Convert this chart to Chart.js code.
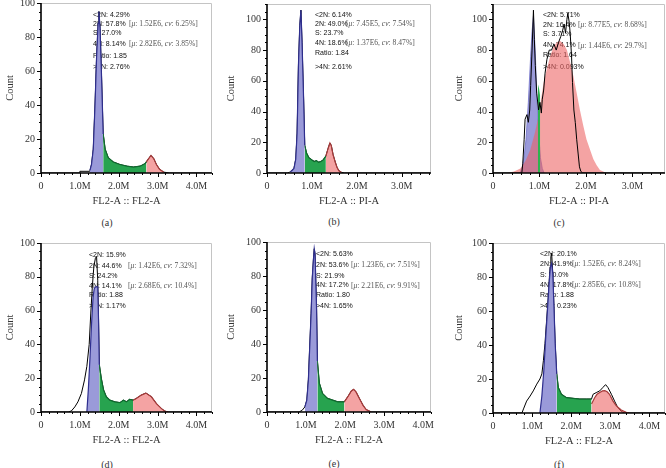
<!DOCTYPE html>
<html>
<head>
<meta charset="utf-8">
<title>Cell cycle histograms</title>
<script src="https://cdn.jsdelivr.net/npm/chart.js@4.4.1/dist/chart.umd.min.js"></script>
<style>
  html, body { margin: 0; padding: 0; background: #fff; }
  #figure { position: relative; width: 666px; height: 468px; overflow: hidden; }
  .panel { position: absolute; width: 222px; height: 234px; }
  .panel canvas { position: absolute; left: 0; top: 0; }
  .cap { position: absolute; font: 10px 'Liberation Serif', 'Times New Roman', serif; color: #333; transform: translate(-50%, -50%); }
</style>
</head>
<body>
<div id="figure"></div>
<script>
Chart.defaults.font.family = "'Liberation Serif', 'Times New Roman', serif";
Chart.defaults.color = '#333';

// ---- data (x in millions, y = count) ----
// (a)
const aX = [0, 0.99, 1.0, 1.25, 1.26, 1.30, 1.345, 1.39, 1.43, 1.47, 1.49, 1.52, 1.56, 1.60, 1.65, 1.73, 1.86, 2.03, 2.21, 2.38, 2.55, 2.68, 2.71, 2.77, 2.83, 2.90, 2.97, 3.05, 3.16, 3.30, 4.4];
const aCount = [0, 0, 1, 1, 1.5, 5, 14, 40, 68, 88, 95, 85, 55, 23, 14, 9, 6.5, 5, 4, 3.5, 4, 5.5, 6.5, 8.5, 10.3, 8.5, 5, 2.2, 0.5, 0, 0];
const aGates = [1.26, 1.60, 2.71, 3.16];
const aStats = ['<2N: 4.29%', '2N: 57.8%', 'S: 27.0%', '4N: 8.14%', 'Ratio: 1.85', '>4N: 2.76%'];
const aFits = [['1.52E6', '6.25%'], ['2.82E6', '3.85%']];

// (b)
const bX = [0, 0.45, 0.5, 0.52, 0.55, 0.6, 0.64, 0.67, 0.70, 0.73, 0.755, 0.78, 0.815, 0.84, 0.88, 0.93, 1.0, 1.05, 1.1, 1.15, 1.2, 1.25, 1.31, 1.36, 1.40, 1.43, 1.47, 1.52, 1.56, 1.6, 1.66, 1.72, 3.7];
const bCount = [0, 0, 0.5, 0.8, 1.5, 3, 9, 26, 70, 96, 106, 85, 48, 18, 13, 10, 8.5, 7.5, 8, 7, 7.5, 8.5, 11, 16, 19.5, 18, 12, 7, 3.5, 1.5, 0.4, 0, 0];
const bGates = [0.52, 0.84, 1.31, 1.66];
const bStats = ['<2N: 6.14%', '2N: 49.0%', 'S: 23.7%', '4N: 18.6%', 'Ratio: 1.84', '>4N: 2.61%'];
const bFits = [['7.45E5', '7.54%'], ['1.37E6', '8.47%']];

// (c)
const cX = [0, 0.62, 0.64, 0.67, 0.69, 0.73, 0.76, 0.79, 0.81, 0.84, 0.87, 0.89, 0.91, 0.94, 0.98, 1.01, 1.04, 1.06, 1.09, 1.12, 1.16, 1.21, 1.26, 1.31, 1.36, 1.41, 1.46, 1.50, 1.53, 1.56, 1.59, 1.61, 1.64, 1.66, 1.69, 1.71, 1.74, 1.77, 1.80, 1.83, 1.86, 1.89, 1.93, 3.7];
const cCount = [0, 0, 6, 22, 35, 38, 33, 41, 57, 80, 106, 87, 70, 52, 41, 46, 39, 48, 54, 65, 74, 80, 80, 84, 80, 85, 89, 93, 97, 91, 100, 104, 98, 91, 76, 59, 41, 33, 22, 13, 4, 1, 0, 0];
const cG1X = [0.58, 0.63, 0.67, 0.71, 0.76, 0.81, 0.84, 0.87, 0.89, 0.91, 0.94, 0.98, 1.02, 1.06, 1.10];
const cG1Y = [0, 4, 11, 22, 46, 76, 92, 102, 90, 78, 52, 27, 10, 3, 0];
const cSX = [0.965, 0.99, 1.015];
const cSY = [58, 55, 50];
const cG2X = [0.32, 0.45, 0.59, 0.70, 0.80, 0.90, 0.98, 1.09, 1.16, 1.23, 1.30, 1.37, 1.44, 1.52, 1.59, 1.66, 1.73, 1.80, 1.87, 1.94, 2.01, 2.09, 2.16, 2.23, 2.30, 2.44];
const cG2Y = [0, 1, 3, 8, 15, 26, 37, 59, 68, 76, 82, 85, 86, 84, 80, 72, 63, 52, 41, 31, 22, 15, 9, 5, 2, 0];
const cStats = ['<2N: 5.71%', '2N: 16.4%', 'S: 3.71%', '4N: 74.1%', 'Ratio: 1.64', '>4N: 0.093%'];
const cFits = [['8.77E5', '8.68%'], ['1.44E6', '29.7%']];

// (d)
const dX = [0, 0.70, 0.78, 0.87, 0.95, 1.04, 1.12, 1.18, 1.24, 1.28, 1.32, 1.36, 1.40, 1.43, 1.46, 1.48, 1.50, 1.55, 1.61, 1.68, 1.77, 1.90, 2.03, 2.12, 2.20, 2.28, 2.37, 2.45, 2.58, 2.70, 2.84, 2.97, 3.10, 3.18, 3.27, 4.4];
const dCount = [0, 0, 0.6, 3, 6, 11, 19, 27, 40, 58, 74, 86, 91, 92, 78, 55, 28, 20, 13, 9, 7, 6, 5.5, 7, 6, 7.5, 7, 8, 10, 11.2, 9, 5, 2, 0.6, 0, 0];
const dG1X = [1.18, 1.22, 1.26, 1.30, 1.34, 1.37, 1.40, 1.43, 1.46, 1.48, 1.50];
const dG1Y = [0, 14, 32, 52, 68, 73, 74, 74, 74, 55, 28];
const dGates = [1.50, 2.37, 3.27];
const dStats = ['<2N: 15.9%', '2N: 44.6%', 'S: 24.2%', '4N: 14.1%', 'Ratio: 1.88', '>4N: 1.17%'];
const dFits = [['1.42E6', '7.32%'], ['2.68E6', '10.4%']];

// (e)
const eX = [0, 0.82, 0.90, 0.97, 1.02, 1.06, 1.09, 1.13, 1.16, 1.19, 1.21, 1.23, 1.27, 1.29, 1.34, 1.42, 1.55, 1.68, 1.81, 1.90, 1.98, 2.07, 2.16, 2.22, 2.28, 2.37, 2.46, 2.54, 2.67, 4.2];
const eCount = [0, 0, 1, 3, 7, 19, 36, 58, 79, 90, 96, 93, 60, 30, 17, 11, 8, 7, 6, 6, 6, 9, 12.4, 13.3, 11.8, 7.8, 3.9, 1.4, 0, 0];
const eGates = [0.97, 1.29, 1.98, 2.67];
const eStats = ['<2N: 5.63%', '2N: 53.6%', 'S: 21.9%', '4N: 17.2%', 'Ratio: 1.80', '>4N: 1.65%'];
const eFits = [['1.23E6', '7.51%'], ['2.21E6', '9.91%']];

// (f)
const fX = [0, 0.74, 0.78, 0.86, 0.95, 1.03, 1.12, 1.20, 1.25, 1.29, 1.33, 1.37, 1.42, 1.46, 1.48, 1.50, 1.53, 1.56, 1.59, 1.63, 1.67, 1.75, 1.88, 2.05, 2.22, 2.39, 2.52, 2.56, 2.64, 2.73, 2.81, 2.88, 2.94, 3.03, 3.11, 3.19, 3.28, 3.36, 4.4];
const fCount = [0, 0, 2.4, 7, 10, 13, 17, 20, 23, 31, 41, 54, 70, 86, 92, 94, 82, 62, 41, 23, 15, 11, 9, 8.6, 8.2, 8.2, 8.2, 11, 12, 13, 15, 16.7, 15, 11, 7, 3.3, 1, 0, 0];
const fG1X = [1.20, 1.25, 1.30, 1.35, 1.40, 1.44, 1.47, 1.50, 1.53, 1.56, 1.59, 1.63];
const fG1Y = [0, 10, 25, 45, 63, 78, 86, 88, 82, 62, 41, 23];
const fG2X = [2.52, 2.60, 2.66, 2.73, 2.80, 2.86, 2.92, 2.98, 3.07, 3.15, 3.28, 3.41, 3.49];
const fG2Y = [5.3, 9, 11, 12, 13, 13.1, 12.5, 11, 7, 4.3, 1.8, 0.4, 0];
const fGates = [1.63, 2.52];
const fStats = ['<2N: 20.1%', '2N: 41.9%', 'S: 20.0%', '4N: 17.8%', 'Ratio: 1.88', '>4N: 0.23%'];
const fFits = [['1.52E6', '8.24%'], ['2.85E6', '10.8%']];

// ---- helpers ----
const BLUE = '#9a9ad9', BLUE_EDGE = '#2e2e8e';
const GREEN = '#27a34f', GREEN_EDGE = '#0f6a2e';
const RED = 'rgba(236, 96, 96, 0.58)', RED_EDGE = '#a73b3b';

function pts(xs, ys) { return xs.map((x, i) => ({ x, y: ys[i] })); }
function gate(xs, ys, lo, hi) {
    const out = [];
    xs.forEach((x, i) => { if (x >= lo - 1e-9 && x <= hi + 1e-9) out.push({ x, y: ys[i] }); });
    return out;
}
function area(data, bg, edge, w) {
    return { data, backgroundColor: bg, borderColor: edge, borderWidth: w, fill: 'origin', pointRadius: 0, tension: 0 };
}
function curve(data) {
    return { data, borderColor: '#000', borderWidth: 1, fill: false, pointRadius: 0, tension: 0 };
}

// first dataset in the list is drawn on top
const panels = [
    { left: 0, top: 0, box: [41, 3, 212, 173], xMax: 4.4, yMax: 100, xTitle: 'FL2-A :: FL2-A', countX: 10,
      note: { stats: aStats, fits: aFits, statX: 93, statY: [15, 24, 33, 44, 56, 67], fitX: 129, fitY: [24, 44] }, cap: [107, 222], label: '(a)',
      sets: [area(gate(aX, aCount, aGates[0], aGates[1]), BLUE, BLUE_EDGE, 1.2),
             area(gate(aX, aCount, aGates[1], aGates[2]), GREEN, GREEN_EDGE, 1.2),
             area(gate(aX, aCount, aGates[2], aGates[3]), RED, RED_EDGE, 1.2),
             curve(pts(aX, aCount))] },
    { left: 222, top: 0, box: [45, 4, 209, 173], xMax: 3.65, yMax: 110, xTitle: 'FL2-A :: PI-A', countX: 9,
      note: { stats: bStats, fits: bFits, statX: 93, statY: [15, 24, 33, 43, 53, 67], fitX: 124, fitY: [24, 43] }, cap: [112, 221], label: '(b)',
      sets: [area(gate(bX, bCount, bGates[0], bGates[1]), BLUE, BLUE_EDGE, 1.2),
             area(gate(bX, bCount, bGates[1], bGates[2]), GREEN, GREEN_EDGE, 1.2),
             area(gate(bX, bCount, bGates[2], bGates[3]), RED, RED_EDGE, 1.2),
             curve(pts(bX, bCount))] },
    { left: 444, top: 0, box: [49, 4, 221, 173], xMax: 3.7, yMax: 110, xTitle: 'FL2-A :: PI-A', countX: 15,
      note: { stats: cStats, fits: cFits, statX: 99, statY: [15, 25, 34, 45, 55, 67], fitX: 134, fitY: [25, 46] }, cap: [115, 222], label: '(c)',
      sets: [curve(pts(cX, cCount)),
             area(pts(cSX, cSY), '#2db34f', 'rgba(0,0,0,0)', 0),
             area(pts(cG2X, cG2Y), RED, 'rgba(0,0,0,0)', 0),
             area(pts(cG1X, cG1Y), BLUE, '#7070c8', 0.8)] },
    { left: 0, top: 234, box: [41, 9, 212, 178], xMax: 4.4, yMax: 100, xTitle: 'FL2-A :: FL2-A', countX: 10,
      note: { stats: dStats, fits: dFits, statX: 89, statY: [21, 32, 42, 52, 61, 72], fitX: 128, fitY: [32, 52] }, cap: [107, 230], label: '(d)',
      sets: [area(pts(dG1X, dG1Y), BLUE, BLUE_EDGE, 1.2),
             area(gate(dX, dCount, dGates[0], dGates[1]), GREEN, GREEN_EDGE, 1.2),
             area(gate(dX, dCount, dGates[1], dGates[2]), RED, RED_EDGE, 1.2),
             curve(pts(dX, dCount))] },
    { left: 222, top: 234, box: [45, 8, 209, 178], xMax: 4.2, yMax: 100, xTitle: 'FL2-A :: FL2-A', countX: 9,
      note: { stats: eStats, fits: eFits, statX: 94, statY: [20, 31, 42, 51, 61, 72], fitX: 129, fitY: [31, 52] }, cap: [112, 229], label: '(e)',
      sets: [area(gate(eX, eCount, eGates[0], eGates[1]), BLUE, BLUE_EDGE, 1.2),
             area(gate(eX, eCount, eGates[1], eGates[2]), GREEN, GREEN_EDGE, 1.2),
             area(gate(eX, eCount, eGates[2], eGates[3]), RED, RED_EDGE, 1.2),
             curve(pts(eX, eCount))] },
    { left: 444, top: 234, box: [49, 9, 221, 179], xMax: 4.4, yMax: 100, xTitle: 'FL2-A :: FL2-A', countX: 15,
      note: { stats: fStats, fits: fFits, statX: 96, statY: [20, 30, 41, 51, 61, 72], fitX: 128, fitY: [30, 51] }, cap: [115, 230], label: '(f)',
      sets: [area(pts(fG1X, fG1Y), BLUE, BLUE_EDGE, 1.2),
             area(gate(fX, fCount, fGates[0], fGates[1]), GREEN, GREEN_EDGE, 1.2),
             area(pts(fG2X, fG2Y), RED, RED_EDGE, 1.2),
             curve(pts(fX, fCount))] }
];

// stats text, drawn before the datasets so the peaks cover it
const statsText = {
    id: 'statsText',
    beforeDatasetsDraw(chart, args, o) {
        const ctx = chart.ctx;
        ctx.save();
        ctx.textBaseline = 'middle';
        ctx.textAlign = 'left';
        ctx.fillStyle = '#111';
        ctx.font = "7px 'Liberation Sans', Arial, sans-serif";
        o.stats.forEach((t, i) => ctx.fillText(t, o.statX, o.statY[i]));
        ctx.fillStyle = '#555';
        o.fits.forEach((f, i) => {
            const parts = [['[', false], ['μ', true], [': ' + f[0] + ', ', false], ['cv', true], [': ' + f[1] + ']', false]];
            let x = o.fitX;
            parts.forEach(([s, it]) => {
                ctx.font = (it ? 'italic ' : '') + "7.6px 'Liberation Serif', 'Times New Roman', serif";
                ctx.fillText(s, x, o.fitY[i]);
                x += ctx.measureText(s).width;
            });
        });
        ctx.restore();
    }
};

// frame, axis lines and minor ticks
const axisFrame = {
    id: 'axisFrame',
    afterDatasetsDraw(chart) {
        const { ctx, chartArea: a, scales: { x, y } } = chart;
        ctx.save();
        ctx.strokeStyle = '#c4c4c4';
        ctx.lineWidth = 1;
        ctx.beginPath();
        ctx.moveTo(a.left, a.top + 0.5);
        ctx.lineTo(a.right - 0.5, a.top + 0.5);
        ctx.lineTo(a.right - 0.5, a.bottom);
        ctx.stroke();

        ctx.strokeStyle = '#000';
        ctx.beginPath();
        for (let i = 0; i * 0.2 <= x.max + 1e-6; i++) {
            const px = Math.round(x.getPixelForValue(i * 0.2)) + 0.5;
            const len = i % 5 === 0 ? 4 : 2;
            ctx.moveTo(px, a.bottom);
            ctx.lineTo(px, a.bottom + len);
        }
        for (let v = 0; v <= y.max + 1e-6; v += 5) {
            const py = Math.round(y.getPixelForValue(v)) + 0.5;
            const len = v % 20 === 0 ? 4 : 2;
            ctx.moveTo(a.left, py);
            ctx.lineTo(a.left - len, py);
        }
        ctx.stroke();

        ctx.lineWidth = 1.6;
        ctx.beginPath();
        ctx.moveTo(a.left, a.top);
        ctx.lineTo(a.left, a.bottom);
        ctx.lineTo(a.right, a.bottom);
        ctx.stroke();
        ctx.restore();
    }
};

const fig = document.getElementById('figure');
const W = 222, H = 234, X_AXIS_H = 36;

panels.forEach(p => {
    const div = document.createElement('div');
    div.className = 'panel';
    div.style.left = p.left + 'px';
    div.style.top = p.top + 'px';
    fig.appendChild(div);

    const cap = document.createElement('div');
    cap.className = 'cap';
    cap.textContent = p.label;
    cap.style.left = p.cap[0] + 'px';
    cap.style.top = p.cap[1] + 'px';
    div.appendChild(cap);

    const canvas = document.createElement('canvas');
    canvas.width = W;
    canvas.height = H;
    div.appendChild(canvas);

    const [L, T, R, B] = p.box;
    new Chart(canvas, {
        type: 'line',
        data: { datasets: p.sets },
        options: {
            responsive: false,
            animation: false,
            events: [],
            layout: { padding: { left: 0, top: T, right: W - R, bottom: H - B - X_AXIS_H } },
            plugins: { legend: { display: false }, tooltip: { enabled: false }, statsText: p.note },
            scales: {
                x: {
                    type: 'linear', min: 0, max: p.xMax,
                    grid: { display: false, drawTicks: false },
                    border: { display: false },
                    ticks: { stepSize: 1, includeBounds: false, padding: 7, maxRotation: 0, autoSkip: false,
                             font: { size: 10 }, callback: v => v === 0 ? '0' : v.toFixed(1) + 'M' },
                    title: { display: true, text: p.xTitle, font: { size: 10.5 }, padding: { top: 0, bottom: 1 } },
                    afterFit: s => { s.height = X_AXIS_H; s.paddingLeft = 0; s.paddingRight = 0; }
                },
                y: {
                    min: 0, max: p.yMax,
                    grid: { display: false, drawTicks: false },
                    border: { display: false },
                    ticks: { stepSize: 20, includeBounds: false, padding: 6, font: { size: 10 } },
                    title: { display: true, text: 'Count', font: { size: 10.5 }, padding: { top: p.countX - 6.3, bottom: 0 } },
                    afterFit: s => { s.width = L; s.paddingTop = 0; s.paddingBottom = 0; }
                }
            }
        },
        plugins: [statsText, axisFrame]
    });
});
</script>
</body>
</html>
